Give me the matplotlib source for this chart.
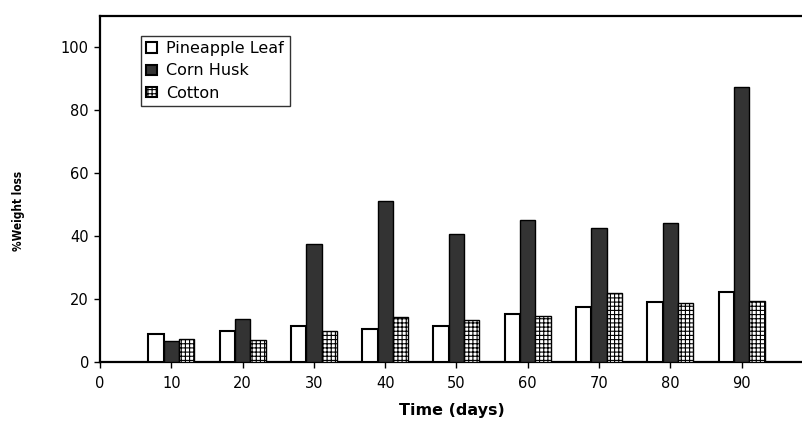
import matplotlib
matplotlib.use("Agg")
import matplotlib.pyplot as plt
import numpy as np

days = [10, 20, 30, 40, 50, 60, 70, 80, 90]
pineapple = [8.8, 9.8, 11.6, 10.6, 11.6, 15.3, 17.4, 19.0, 22.4]
corn = [6.6, 13.7, 37.5, 51.3, 40.8, 45.0, 42.5, 44.1, 87.3]
cotton = [7.3, 7.1, 9.7, 14.3, 13.4, 14.6, 22.0, 18.8, 19.4]
series_names = ["Pineapple Leaf", "Corn Husk", "Cotton"]
xticks = [0, 10, 20, 30, 40, 50, 60, 70, 80, 90]
yticks = [0, 20, 40, 60, 80, 100]

plt.rcParams['font.family'] = ['DejaVu Sans']
plt.rcParams['hatch.linewidth'] = 0.8

fig = plt.figure(figsize=(8.03, 4.21), dpi=100)
ax = fig.add_axes([100/803, 59/421, 703/803, 346/421])

x = np.array(days, dtype=float)
w = 2.15
ax.bar(x - w, pineapple, width=w, color='white', edgecolor='black', linewidth=1.5,
       label=series_names[0], zorder=3)
ax.bar(x, corn, width=w, color='#333333', edgecolor='black', linewidth=1.0,
       label=series_names[1], zorder=3)
ax.bar(x + w, cotton, width=w, color='white', edgecolor='black', linewidth=1.0,
       hatch='++++', label=series_names[2], zorder=3)

ax.set_xlim(0, 98.6)
ax.set_ylim(0, 110)
ax.set_xticks(xticks)
ax.set_yticks(yticks)
ax.tick_params(axis='both', direction='out', length=4, width=1, labelsize=10.5, colors='black')
ax.tick_params(axis='x', pad=6)
ax.tick_params(axis='y', pad=4)

ax.spines['right'].set_visible(False)
for s in ['left', 'bottom', 'top']:
    ax.spines[s].set_linewidth(1.6)
    ax.spines[s].set_color('black')

ax.set_xlabel("Time (days)", fontsize=11.5, fontweight='bold', labelpad=9)
fig.text(19/803, 1 - 211/421, "%Weight loss", rotation=90, fontsize=8.5,
         fontweight='bold', fontstretch='condensed', ha='center', va='center')

leg = ax.legend(loc='upper left', bbox_to_anchor=(0.058, 0.943), borderaxespad=0,
                fontsize=11.5, frameon=True, fancybox=False, shadow=False,
                handlelength=0.65, handleheight=0.65, handletextpad=0.6,
                labelspacing=0.45, borderpad=0.35)
leg.get_frame().set_edgecolor('black')
leg.get_frame().set_linewidth(1.0)
for h in leg.legend_handles:
    h.set_linewidth(1.5)

fig.savefig("out.png", dpi=100)
